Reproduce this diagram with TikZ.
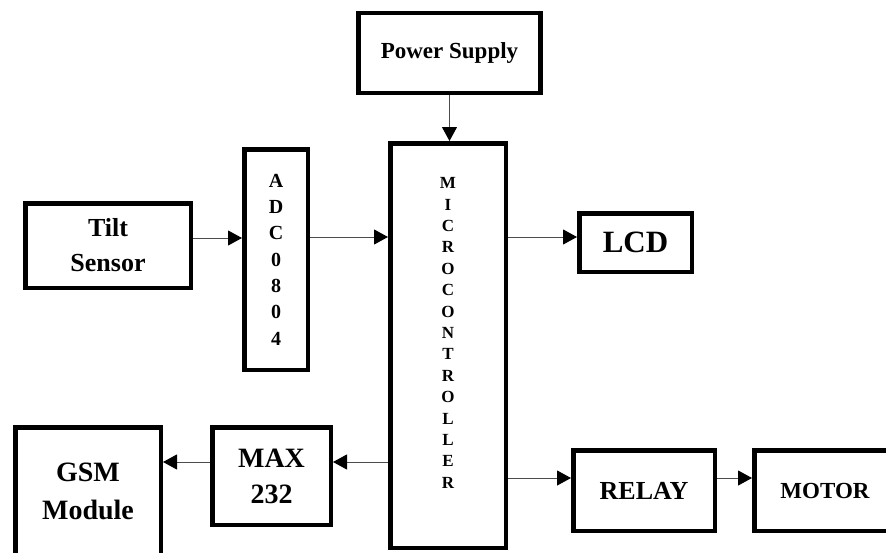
\documentclass[tikz,border=0pt]{standalone}
\usepackage{fontspec}
\setmainfont{Liberation Serif}
\usetikzlibrary{arrows.meta, positioning}
\tikzstyle{block}   = [rectangle, draw=black, line width=4.5pt, fill=white,
                       align=center, inner sep=0pt]
\tikzstyle{letters} = [align=center, inner sep=0pt]
\tikzstyle{arrow}   = [line width=1pt, draw=black!70,
                       -{Triangle[length=14pt, width=15pt, black]}]

\begin{document}
\begin{tikzpicture}[x=1pt, y=-1pt]
  \useasboundingbox (0,0) rectangle (886,552);

  % Supply and controller
  \node (power) [block, minimum width=182pt, minimum height=80pt,
                 font=\fontsize{23}{28}\selectfont\bfseries] at (449.5, 53) {Power Supply};
  \node (micro) [block, minimum width=115.5pt, minimum height=404.5pt] at (448, 345.5) {};
  \node (microlabel) [letters, font=\fontsize{17}{21.4}\selectfont\bfseries] at (448, 333)
        {M\\I\\C\\R\\O\\C\\O\\N\\T\\R\\O\\L\\L\\E\\R};

  % Input side
  \node (tilt) [block, minimum width=165.5pt, minimum height=84.5pt,
                font=\fontsize{26}{35}\selectfont\bfseries] at (108, 245.5) {Tilt\\Sensor};
  \node (adc)  [block, minimum width=63.5pt, minimum height=220.5pt,
                font=\fontsize{20}{26.3}\selectfont\bfseries] at (276, 259.5) {A\\D\\C\\0\\8\\0\\4};

  % Output side
  \node (lcd)   [block, minimum width=112.5pt, minimum height=58.5pt,
                 font=\fontsize{31}{36}\selectfont\bfseries] at (635.5, 242.5) {LCD};
  \node (relay) [block, minimum width=141.5pt, minimum height=80.5pt,
                 font=\fontsize{26}{30}\selectfont\bfseries] at (644, 490.5) {RELAY};
  \node (motor) [block, minimum width=141.5pt, minimum height=80.5pt,
                 font=\fontsize{23}{28}\selectfont\bfseries] at (825, 490.5) {MOTOR};

  % Communication side
  \node (max) [block, minimum width=118.5pt, minimum height=97.5pt,
               font=\fontsize{28}{36}\selectfont\bfseries] at (271.5, 476) {MAX\\232};
  \node (gsm) [block, minimum width=145.5pt, minimum height=127.5pt,
               font=\fontsize{28}{38}\selectfont\bfseries] at (88, 491) {GSM\\Module};

  % Power -> Micro
  \draw[arrow] (power.south) -- (power.south |- micro.north);
  % Tilt -> ADC
  \draw[arrow] ([yshift=7.5pt]tilt.east) -- ([yshift=7.5pt]tilt.east -| adc.west);
  % ADC -> Micro
  \draw[arrow] ([yshift=22.5pt]adc.east) -- ([yshift=22.5pt]adc.east -| micro.west);
  % Micro -> LCD
  \draw[arrow] ([yshift=5.5pt]lcd.west -| micro.east) -- ([yshift=5.5pt]lcd.west);
  % Micro -> MAX
  \draw[arrow] ([yshift=14pt]max.east -| micro.west) -- ([yshift=14pt]max.east);
  % MAX -> GSM
  \draw[arrow] ([yshift=14pt]max.west) -- ([yshift=14pt]max.west -| gsm.east);
  % Micro -> Relay
  \draw[arrow] ([yshift=12.5pt]relay.west -| micro.east) -- ([yshift=12.5pt]relay.west);
  % Relay -> Motor
  \draw[arrow] ([yshift=12.5pt]relay.east) -- ([yshift=12.5pt]relay.east -| motor.west);

\end{tikzpicture}
\end{document}
